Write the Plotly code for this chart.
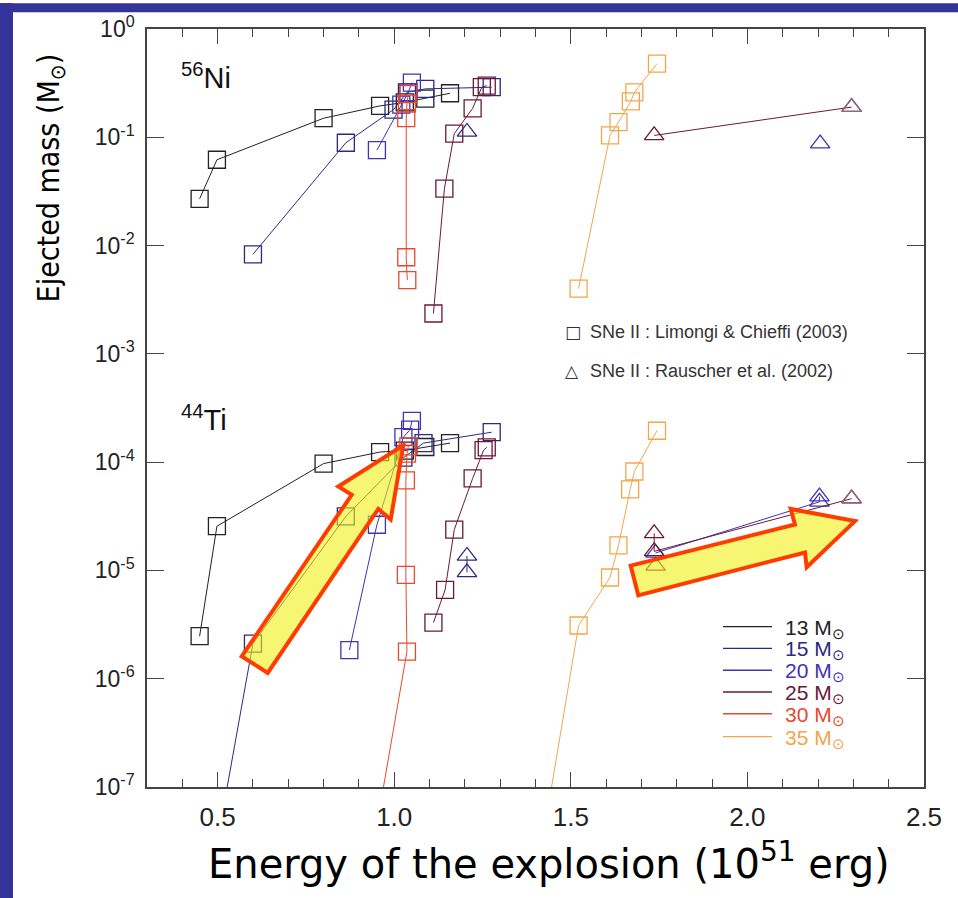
import plotly.graph_objects as go

# ---------------- data ----------------
# Limongi & Chieffi (2003) – 56Ni
ni13_E = [0.449, 0.498, 0.800, 0.960, 1.030, 1.088, 1.158]
ni13_M = [0.027, 0.062, 0.150, 0.195, 0.210, 0.228, 0.255]
ni15_E = [0.600, 0.863, 0.998, 1.036, 1.088, 1.276]
ni15_M = [0.0083, 0.089, 0.180, 0.260, 0.280, 0.290]
ni20_E = [0.951, 1.020, 1.040, 1.050]
ni20_M = [0.076, 0.200, 0.260, 0.320]
ni25_E = [1.111, 1.142, 1.170, 1.222, 1.248, 1.262]
ni25_M = [0.00236, 0.0335, 0.108, 0.185, 0.290, 0.300]
ni30_E = [1.037, 1.034, 1.034, 1.036, 1.040]
ni30_M = [0.0048, 0.0078, 0.150, 0.205, 0.250]
ni35_E = [1.522, 1.611, 1.635, 1.670, 1.680, 1.744]
ni35_M = [0.0040, 0.104, 0.138, 0.215, 0.260, 0.478]

# Limongi & Chieffi (2003) – 44Ti
ti13_E = [0.449, 0.498, 0.800, 0.960, 1.030, 1.088, 1.158]
ti13_M = [2.47e-6, 2.56e-5, 9.7e-5, 1.24e-4, 1.28e-4, 1.38e-4, 1.50e-4]
ti15_E = [0.450, 0.600, 0.863, 1.026, 1.083, 1.276]
ti15_M = [4e-9, 2.11e-6, 3.15e-5, 1.10e-4, 1.50e-4, 1.89e-4]
ti20_E = [0.873, 0.951, 1.026, 1.045, 1.050]
ti20_M = [1.84e-6, 2.64e-5, 1.70e-4, 2.00e-4, 2.40e-4]
ti25_E = [1.111, 1.144, 1.170, 1.222, 1.253, 1.262]
ti25_M = [3.3e-6, 6.6e-6, 2.38e-5, 7.07e-5, 1.29e-4, 1.37e-4]
ti30_E = [0.930, 1.036, 1.033, 1.033, 1.036, 1.040]
ti30_M = [1.8e-8, 1.78e-6, 9.1e-6, 6.8e-5, 1.20e-4, 1.40e-4]
ti35_E = [1.400, 1.522, 1.611, 1.635, 1.668, 1.680, 1.744]
ti35_M = [1.3e-8, 3.1e-6, 8.6e-6, 1.7e-5, 5.6e-5, 8.2e-5, 1.95e-4]

# Rauscher et al. (2002)
r15ni_E = [1.206]
r15ni_M = [0.112]
r15ti_E = [1.206, 1.206]
r15ti_M = [1.36e-5, 9.6e-6]
r20ni_E = [2.206]
r20ni_M = [0.0874]
r20ti_E = [1.740, 2.204, 2.204]
r20ti_M = [1.45e-5, 4.3e-5, 4.8e-5]
r25ni_E = [1.736, 2.295]
r25ni_M = [0.104, 0.190]
r25ti_E = [1.736, 1.736, 2.295]
r25ti_M = [2.2e-5, 1.5e-5, 4.6e-5]
r25x_E = [1.740]
r25x_M = [1.1e-5]

mass_labels = ["13", "15", "20", "25", "30", "35"]
y_tickvals = [1, 1e-1, 1e-2, 1e-3, 1e-4, 1e-5, 1e-6, 1e-7]
y_ticktext = ["10<sup>0</sup>", "10<sup>-1</sup>", "10<sup>-2</sup>", "10<sup>-3</sup>",
              "10<sup>-4</sup>", "10<sup>-5</sup>", "10<sup>-6</sup>", "10<sup>-7</sup>"]
x_tickvals = [0.5, 1.0, 1.5, 2.0, 2.5]
x_ticktext = ["0.5", "1.0", "1.5", "2.0", "2.5"]

# ---------------- styling ----------------
C = {"13": "#222222", "15": "#2a2a82", "20": "#4232b4", "25": "#6c1838",
     "30": "#e8492f", "35": "#f2a64a"}
MAUVE = "#8c6c7e"
W, H = 958, 898
L, R, T, B = 147, 34, 21, 111
PW, PH = W - L - R, H - T - B


def px(x):
    return (x - L) / PW


def py(y):
    return (H - B - y) / PH


fig = go.Figure()


def add(E, M, color, symbol="square-open", mcolor=None, size=17, line=True):
    fig.add_trace(go.Scatter(
        x=E, y=M, mode="lines+markers" if line else "markers",
        line=dict(color=color, width=1),
        marker=dict(symbol=symbol, size=size, color=mcolor or color,
                    line=dict(color=mcolor or color, width=1.3)),
        showlegend=False, hoverinfo="x+y"))


for E, M, k in [(ni13_E, ni13_M, "13"), (ni15_E, ni15_M, "15"), (ni20_E, ni20_M, "20"),
                (ni25_E, ni25_M, "25"), (ni30_E, ni30_M, "30"), (ni35_E, ni35_M, "35"),
                (ti13_E, ti13_M, "13"), (ti15_E, ti15_M, "15"), (ti20_E, ti20_M, "20"),
                (ti25_E, ti25_M, "25"), (ti30_E, ti30_M, "30"), (ti35_E, ti35_M, "35")]:
    add(E, M, C[k])

tri = "triangle-up-open"
add(r15ni_E, r15ni_M, C["15"], tri)
add(r15ti_E, r15ti_M, C["15"], tri)
add(r20ni_E, r20ni_M, C["20"], tri)
add(r20ti_E, r20ti_M, C["20"], tri)
add(r25ni_E, r25ni_M, C["25"], tri)
add(r25ti_E, r25ti_M, C["25"], tri)
add(r25x_E, r25x_M, C["25"], tri, line=False)
# lighter triangles at the high-energy end
add(r25ni_E[-1:], r25ni_M[-1:], MAUVE, tri, line=False)
add(r25ti_E[-1:], r25ti_M[-1:], MAUVE, tri, line=False)

shapes = []
annotations = []

# blue slide border
BLUE = "#33339a"
shapes.append(dict(type="rect", xref="paper", yref="paper", x0=px(-5), x1=px(13),
                   y0=py(H + 5), y1=py(-5), fillcolor=BLUE, line=dict(width=0), layer="above"))
shapes.append(dict(type="rect", xref="paper", yref="paper", x0=px(-5), x1=px(W + 5),
                   y0=py(4), y1=py(-5), fillcolor=BLUE, line=dict(width=0), layer="above"))


def arrow(pts):
    d = "M " + " L ".join(f"{px(a):.5f},{py(b):.5f}" for a, b in pts) + " Z"
    return dict(type="path", xref="paper", yref="paper", path=d,
                fillcolor="rgba(240,240,20,0.6)", line=dict(color="#ff3c00", width=4),
                layer="above")


shapes.append(arrow([(241.7, 655), (267.7, 671.7), (378.3, 506), (390.7, 516.7),
                     (403.3, 441.7), (338.3, 483.3), (351.7, 491.7)]))
shapes.append(arrow([(630.7, 563.3), (638.3, 593.3), (805, 550), (806.7, 565),
                     (855, 518.3), (790.7, 506), (795, 521.7)]))

# mass legend
leg_rows = [625, 647, 669, 691, 713, 736]
for k, yy in zip(mass_labels, leg_rows):
    shapes.append(dict(type="line", xref="paper", yref="paper", x0=px(723), x1=px(772),
                       y0=py(yy), y1=py(yy), line=dict(color=C[k], width=1.3)))
    annotations.append(dict(xref="paper", yref="paper", x=px(784), y=py(yy + 2),
                            xanchor="left", yanchor="middle", showarrow=False,
                            text=f"{k} M<sub>⊙</sub>", borderpad=0,
                            font=dict(family="Liberation Sans, Arial", size=21, color=C[k])))

# symbol legend
for sym, txt, yy in [("□", "SNe II : Limongi &amp; Chieffi (2003)", 327),
                     ("△", "SNe II : Rauscher et al. (2002)", 367)]:
    annotations.append(dict(xref="paper", yref="paper", x=px(563), y=py(yy),
                            xanchor="left", yanchor="middle", showarrow=False, text=sym,
                            font=dict(family="DejaVu Sans", size=17, color="#333")))
    annotations.append(dict(xref="paper", yref="paper", x=px(588), y=py(yy),
                            xanchor="left", yanchor="middle", showarrow=False, text=txt,
                            font=dict(family="Liberation Sans, Arial", size=18, color="#333")))

# isotope labels
annotations.append(dict(xref="paper", yref="paper", x=px(179), y=py(68), xanchor="left",
                        yanchor="middle", showarrow=False, text="<sup>56</sup>Ni",
                        font=dict(family="Liberation Sans, Arial", size=29, color="#111")))
annotations.append(dict(xref="paper", yref="paper", x=px(179), y=py(414), xanchor="left",
                        yanchor="middle", showarrow=False, text="<sup>44</sup>Ti",
                        font=dict(family="Liberation Sans, Arial", size=29, color="#111")))

# axis titles
annotations.append(dict(xref="paper", yref="paper", x=px(549), y=py(862), xanchor="center",
                        yanchor="middle", showarrow=False,
                        text="Energy of the explosion (10<sup>51</sup> erg)",
                        font=dict(family="DejaVu Sans", size=40, color="#000")))
annotations.append(dict(xref="paper", yref="paper", x=px(50), y=py(172), xanchor="center",
                        yanchor="middle", showarrow=False, textangle=-90,
                        text="Ejected mass (M<sub>⊙</sub>)",
                        font=dict(family="DejaVu Sans Condensed, Liberation Sans Narrow, DejaVu Sans",
                                  size=30, color="#000")))

fig.update_layout(
    width=W, height=H,
    margin=dict(l=L, r=R, t=T, b=B, pad=0),
    paper_bgcolor="white", plot_bgcolor="white",
    shapes=shapes, annotations=annotations,
    xaxis=dict(range=[0.3, 2.5], tickvals=x_tickvals, ticktext=x_ticktext,
               ticks="inside", ticklen=15, tickwidth=1.3, tickcolor="#444",
               showline=True, linecolor="#444", linewidth=1.5, mirror="allticks",
               showgrid=False, zeroline=False, ticklabelstandoff=6,
               tickfont=dict(family="Liberation Sans, Arial", size=26, color="#222"),
               minor=dict(dtick=0.1, tick0=0.0, ticks="inside", ticklen=8,
                          tickwidth=1, tickcolor="#444", showgrid=False)),
    yaxis=dict(type="log", range=[-7, 0], tickvals=y_tickvals, ticktext=y_ticktext,
               ticks="inside", ticklen=17, tickwidth=1.3, tickcolor="#444",
               showline=True, linecolor="#444", linewidth=1.5, mirror="allticks",
               showgrid=False, zeroline=False, ticklabelstandoff=6,
               tickfont=dict(family="Liberation Sans, Arial", size=23, color="#222")),
)

fig.write_html("out.html", config={"displayModeBar": False},
               post_script="document.body.style.margin='0px';")
